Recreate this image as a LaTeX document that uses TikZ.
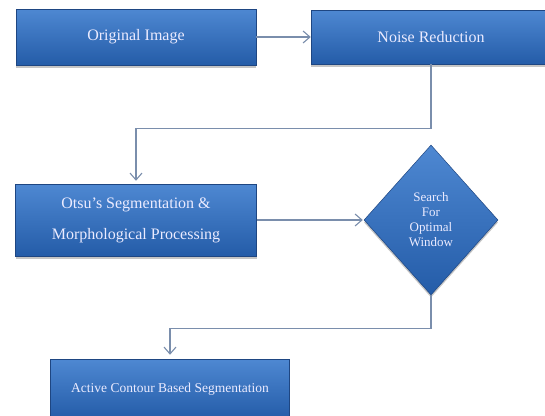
\documentclass[tikz,border=0pt]{standalone}
\usepackage{fontspec}
\setmainfont{Liberation Serif}
\usetikzlibrary{arrows.meta,shapes.geometric,shadows}

\definecolor{boxtop}{RGB}{78,136,210}
\definecolor{boxbot}{RGB}{36,92,168}
\definecolor{boxline}{RGB}{30,70,130}
\definecolor{linkcol}{RGB}{122,142,172}

\begin{document}
\begin{tikzpicture}[x=1pt,y=-1pt,line width=1.1pt,>={Straight Barb[length=2.4mm,width=4.2mm]},
  stepbox/.style={rectangle,top color=boxtop,bottom color=boxbot,draw=boxline,line width=0.5pt,
    text=white!92!blue,align=center,inner sep=2pt,
    drop shadow={shadow xshift=0pt,shadow yshift=-2.5pt,opacity=0.45}},
  choice/.style={diamond,top color=boxtop,bottom color=boxbot,draw=boxline,line width=0.5pt,
    text=white!92!blue,align=center,inner sep=0pt,
    drop shadow={shadow xshift=0pt,shadow yshift=-2.5pt,opacity=0.45}},
  link/.style={->,draw=linkcol}]
  \useasboundingbox[fill=white] (0,0) rectangle (545,415);
  \node[stepbox,minimum width=240pt,minimum height=56pt,font=\fontsize{16}{18}\selectfont] (orig) at (136,37)
    {Original Image};
  \node[stepbox,minimum width=240pt,minimum height=54pt,font=\fontsize{16}{18}\selectfont] (noise) at (431,37)
    {Noise Reduction};
  \node[stepbox,minimum width=241pt,minimum height=72pt,font=\fontsize{16}{31}\selectfont] (otsu) at (136,220)
    {Otsu's Segmentation \&\\Morphological Processing};
  \node[choice,minimum width=134pt,minimum height=150pt,font=\fontsize{13}{15}\selectfont] (search) at (431,220)
    {Search\\For\\Optimal\\Window};
  \node[stepbox,minimum width=239pt,minimum height=60pt,font=\fontsize{13.5}{16}\selectfont] (active) at (170,389)
    {Active Contour Based Segmentation};
  % connectors
  \draw[link] (orig.east) -- (noise.west);
  \draw[link,shorten >=3pt] (noise.south) -- ++(0,64) -| (otsu.north);
  \draw[link,shorten >=1pt] (otsu.east) -- (search.west);
  \draw[link,shorten >=4pt] (search.south) -- ++(0,33) -| (active.north);
\end{tikzpicture}
\end{document}
